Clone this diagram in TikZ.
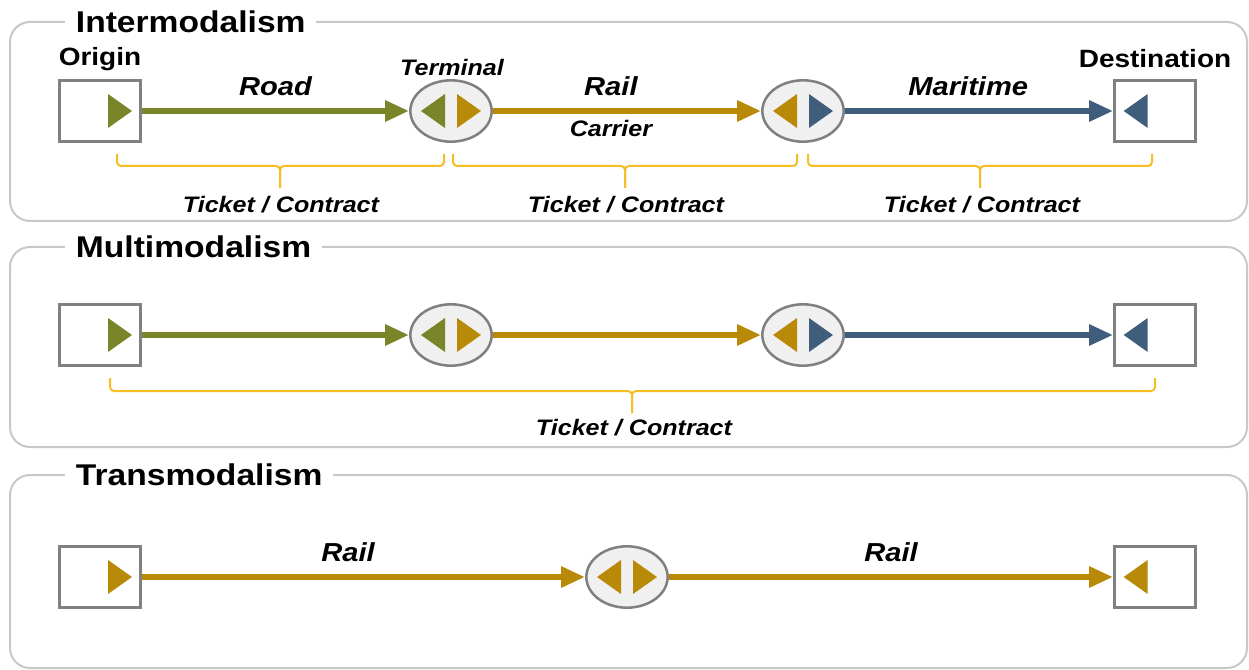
\documentclass[tikz,border=0pt]{standalone}
\usepackage{fontspec}
\setmainfont[FakeStretch=1.12]{Liberation Sans}
\usetikzlibrary{shapes.geometric,arrows.meta}

\definecolor{roadc}{RGB}{122,132,40}
\definecolor{railc}{RGB}{184,138,8}
\definecolor{seac}{RGB}{64,94,124}
\definecolor{framec}{RGB}{200,200,200}
\definecolor{boxc}{RGB}{128,128,128}
\definecolor{termc}{RGB}{240,240,240}
\definecolor{brackc}{RGB}{246,190,36}

\tikzset{
  panel/.style={draw=framec, line width=1.5pt, rounded corners=15pt},
  paneltitle/.style={fill=white, anchor=west, inner xsep=8pt, inner ysep=0pt,
    font=\bfseries\fontsize{22.5}{25}\selectfont},
  place/.style={draw=boxc, fill=white, line width=1.9pt, minimum width=61pt,
    minimum height=46pt, inner sep=0pt},
  term/.style={ellipse, draw=boxc, fill=termc, line width=1.9pt, minimum width=61pt,
    minimum height=46pt, inner sep=0pt},
  mode/.style={line width=4.5pt, -{Triangle[length=18pt,width=15pt]}},
  road/.style={mode, draw=roadc},
  rail/.style={mode, draw=railc},
  sea/.style={mode, draw=seac},
  brack/.style={draw=brackc, line width=1.5pt, rounded corners=3pt},
  lab/.style={font=\bfseries\itshape\fontsize{19.5}{22}\selectfont},
  small/.style={font=\bfseries\itshape\fontsize{16.8}{19}\selectfont},
  endlab/.style={font=\bfseries\fontsize{18.75}{21}\selectfont},
  rtri/.pic={\fill[#1] (-12,-17) -- (12,0) -- (-12,17) -- cycle;},
  ltri/.pic={\fill[#1] (12,-17) -- (-12,0) -- (12,17) -- cycle;}
}

\begin{document}
\begin{tikzpicture}[x=0.75pt, y=-0.75pt]
    \useasboundingbox (0,0) rectangle (1249,670);

    % Rahmen
    \draw[panel] (10,22) rectangle (1247,221);
    \draw[panel] (10,247) rectangle (1247,447);
    \draw[panel] (10,475) rectangle (1247,668);
    \node[paneltitle] (inter) at (65,22) {Intermodalism};
    \node[paneltitle] (multi) at (65,247) {Multimodalism};
    \node[paneltitle] (trans) at (65,475) {Transmodalism};

    % Intermodalism
    \node[place] (o1) at (100,111) {};
    \node[term] (t1) at (451,111) {};
    \node[term] (t2) at (803,111) {};
    \node[place] (d1) at (1155,111) {};
    \pic at ([xshift=15pt]o1.center) {rtri=roadc};
    \pic at ([xshift=-13.5pt]t1.center) {ltri=roadc};
    \pic at ([xshift=13.5pt]t1.center) {rtri=railc};
    \pic at ([xshift=-13.5pt]t2.center) {ltri=railc};
    \pic at ([xshift=13.5pt]t2.center) {rtri=seac};
    \pic at ([xshift=-14.5pt]d1.center) {ltri=seac};
    \node[endlab] (orig) at (100,59) {Origin};
    \node[endlab] (dest) at (1155,59) {Destination};
    \node[small] (termlab) at (452,67) {Terminal};

    \draw[road] (o1) -- (t1) node[midway, yshift=18.75pt, lab] {Road};
    \draw[rail] (t1) -- (t2) node[pos=0.44, yshift=18.75pt, lab] {Rail}
        node[pos=0.44, yshift=-12.75pt, small] {Carrier};
    \draw[sea] (t2) -- (d1) node[pos=0.46, yshift=18.75pt, lab] {Maritime};

    \draw[brack] (117,154) |- (280,166) -- (280,188);
    \draw[brack] (444,154) |- (280,166) -- (280,188);
    \draw[brack] (453,154) |- (625,166) -- (625,188);
    \draw[brack] (797,154) |- (625,166) -- (625,188);
    \draw[brack] (808,154) |- (980,166) -- (980,188);
    \draw[brack] (1152,154) |- (980,166) -- (980,188);
    \node[small] (tc1) at (281,205) {Ticket / Contract};
    \node[small] (tc2) at (626,205) {Ticket / Contract};
    \node[small] (tc3) at (982,205) {Ticket / Contract};

    % Multimodalism
    \node[place] (o2) at (100,335) {};
    \node[term] (t3) at (451,335) {};
    \node[term] (t4) at (803,335) {};
    \node[place] (d2) at (1155,335) {};
    \pic at ([xshift=15pt]o2.center) {rtri=roadc};
    \pic at ([xshift=-13.5pt]t3.center) {ltri=roadc};
    \pic at ([xshift=13.5pt]t3.center) {rtri=railc};
    \pic at ([xshift=-13.5pt]t4.center) {ltri=railc};
    \pic at ([xshift=13.5pt]t4.center) {rtri=seac};
    \pic at ([xshift=-14.5pt]d2.center) {ltri=seac};

    \draw[road] (o2) -- (t3);
    \draw[rail] (t3) -- (t4);
    \draw[sea] (t4) -- (d2);

    \draw[brack] (110,378) |- (632,391) -- (632,413);
    \draw[brack] (1155,378) |- (632,391) -- (632,413);
    \node[small] (tc4) at (634,428) {Ticket / Contract};

    % Transmodalism
    \node[place] (o3) at (100,577) {};
    \node[term] (t5) at (627,577) {};
    \node[place] (d3) at (1155,577) {};
    \pic at ([xshift=15pt]o3.center) {rtri=railc};
    \pic at ([xshift=-13.5pt]t5.center) {ltri=railc};
    \pic at ([xshift=13.5pt]t5.center) {rtri=railc};
    \pic at ([xshift=-14.5pt]d3.center) {ltri=railc};

    \draw[rail] (o3) -- (t5) node[pos=0.465, yshift=18.75pt, lab] {Rail};
    \draw[rail] (t5) -- (d3) node[midway, yshift=18.75pt, lab] {Rail};
\end{tikzpicture}
\end{document}
